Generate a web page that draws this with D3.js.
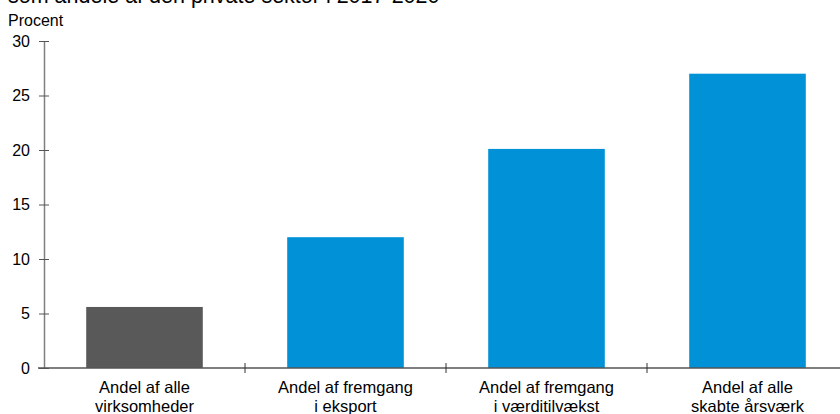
<!DOCTYPE html>
<html>
<head>
<meta charset="utf-8">
<script src="https://cdn.jsdelivr.net/npm/d3@7"></script>
<style>
  body { margin: 0; background: #fff; }
  svg { font-family: "Liberation Sans", Arial, sans-serif; display: block; }
</style>
</head>
<body>
<svg class="drawSpace" width="840" height="414"></svg>
<script>
const categories = [
  ['Andel af alle', 'virksomheder'],
  ['Andel af fremgang', 'i eksport'],
  ['Andel af fremgang', 'i værditilvækst'],
  ['Andel af alle', 'skabte årsværk']
];
const values = [5.6, 12, 20.1, 27];
const barColors = ['#595959', '#0091d7', '#0091d7', '#0091d7'];
const yTicks = [0, 5, 10, 15, 20, 25, 30];

const svg = d3.select('.drawSpace');
const plotLeft = 44, plotRight = 848, plotTop = 41, plotBottom = 368;

const x = d3.scaleBand()
  .domain(d3.range(categories.length))
  .range([plotLeft, plotRight])
  .paddingInner(0.42)
  .paddingOuter(0.21);
const y = d3.scaleLinear().domain([0, 30]).range([plotBottom, plotTop]);

// title, cut off at top
svg.append('text')
  .attr('x', 8).attr('y', 3)
  .attr('font-size', 21.5)
  .attr('fill', '#000')
  .text('som andele af den private sektor i 2017-2020');

svg.append('text')
  .attr('x', 8).attr('y', 26)
  .attr('font-size', 16)
  .text('Procent');

// bars
svg.selectAll('rect.bar')
  .data(values)
  .enter()
  .append('rect')
  .attr('class', 'bar')
  .attr('x', (d, i) => x(i))
  .attr('width', x.bandwidth())
  .attr('y', (d) => y(d))
  .attr('height', (d) => y(0) - y(d))
  .attr('fill', (d, i) => barColors[i]);

// y axis
const yAxis = svg.append('g')
  .attr('transform', 'translate(' + plotLeft + ',0)')
  .call(d3.axisLeft(y).tickValues(yTicks).tickSize(5).tickSizeOuter(0).tickPadding(9));
yAxis.select('.domain').attr('stroke', '#7f7f7f').attr('stroke-width', 1.5);
yAxis.selectAll('.tick line').attr('stroke', '#555').attr('x2', 5).attr('x1', -5);
yAxis.selectAll('.tick text').attr('font-size', 16).attr('fill', '#000')
  .attr('font-family', '"Liberation Sans", Arial, sans-serif');

// x axis
const gap = x.step() - x.bandwidth();
const xg = svg.append('g');
xg.append('line')
  .attr('x1', plotLeft - 6).attr('x2', 840)
  .attr('y1', y(0)).attr('y2', y(0))
  .attr('stroke', '#555').attr('stroke-width', 1.5);
xg.selectAll('line.sep')
  .data(d3.range(1, categories.length))
  .enter()
  .append('line')
  .attr('class', 'sep')
  .attr('x1', (d) => x(d) - gap / 2)
  .attr('x2', (d) => x(d) - gap / 2)
  .attr('y1', y(0) - 5).attr('y2', y(0) + 5)
  .attr('stroke', '#333');

const labels = xg.selectAll('text.cat')
  .data(categories)
  .enter()
  .append('text')
  .attr('class', 'cat')
  .attr('text-anchor', 'middle')
  .attr('font-size', 16.5)
  .attr('fill', '#000');
labels.each(function (d, i) {
  const t = d3.select(this);
  d.forEach((line, j) => {
    t.append('tspan')
      .attr('x', x(i) + x.bandwidth() / 2)
      .attr('y', y(0) + 25 + j * 19)
      .text(line);
  });
});
</script>
</body>
</html>
